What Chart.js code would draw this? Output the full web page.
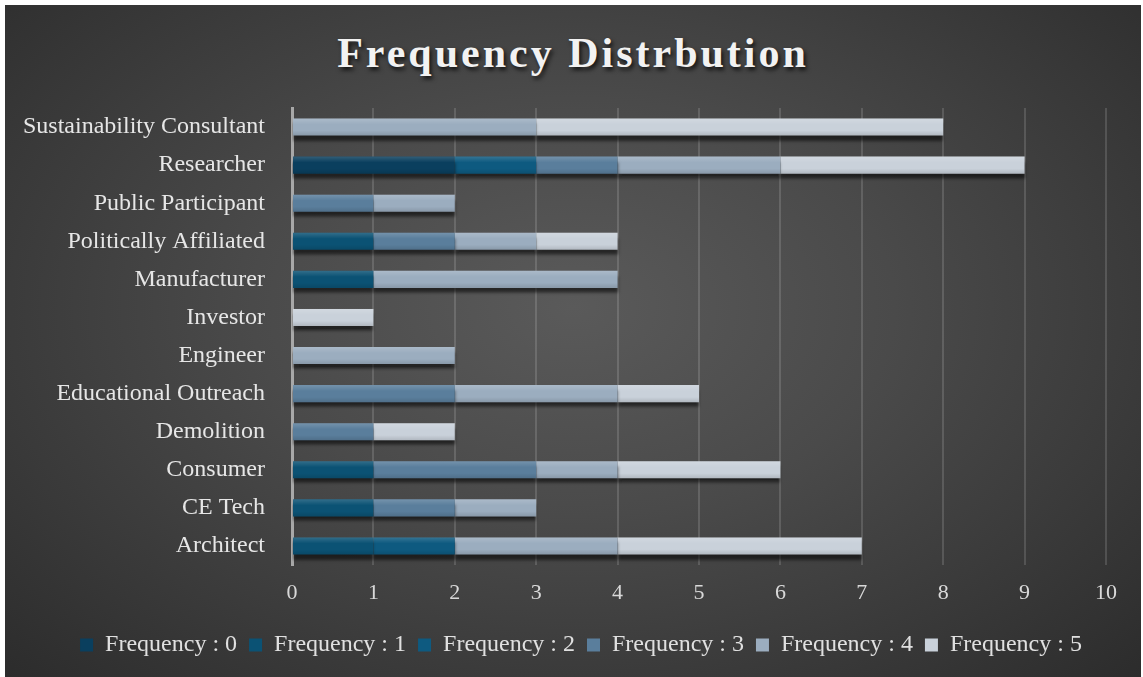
<!DOCTYPE html>
<html>
<head>
<meta charset="utf-8">
<title>Frequency Distrbution</title>
<script src="https://cdn.jsdelivr.net/npm/chart.js@4.4.1/dist/chart.umd.min.js"></script>
<style>
  html, body { margin: 0; padding: 0; background: #fff; }
  #wrap {
    position: absolute; left: 5px; top: 5px; width: 1136px; height: 672px;
    background: radial-gradient(ellipse at 50% 45%, #5a5a5a 0%, #4a4a4a 40%, #2c2c2c 100%);
    overflow: hidden;
  }
  #title {
    position: absolute; left: 0; right: 0; top: 24px; margin: 0;
    text-align: center; font: bold 42px "Liberation Serif", "Times New Roman", serif;
    letter-spacing: 3px; color: #f2f2f2;
    text-shadow: 2px 3px 4px rgba(0,0,0,0.75);
  }
  #chart { position: absolute; left: 0; top: 0; }
</style>
</head>
<body>
<div id="wrap">
  <h1 id="title">Frequency Distrbution</h1>
  <canvas id="chart" width="1136" height="672"></canvas>
</div>
<script>
// ── Data ─────────────────────────────────────────────────────────
const CATEGORIES = ['Sustainability Consultant', 'Researcher', 'Public Participant', 'Politically Affiliated',
  'Manufacturer', 'Investor', 'Engineer', 'Educational Outreach', 'Demolition', 'Consumer', 'CE Tech', 'Architect'];

const FREQ_0 = [0, 2, 0, 0, 0, 0, 0, 0, 0, 0, 0, 0];
const FREQ_1 = [0, 0, 0, 1, 1, 0, 0, 0, 0, 1, 1, 1];
const FREQ_2 = [0, 1, 0, 0, 0, 0, 0, 0, 0, 0, 0, 1];
const FREQ_3 = [0, 1, 1, 1, 0, 0, 0, 2, 1, 2, 1, 0];
const FREQ_4 = [3, 2, 1, 1, 3, 0, 2, 2, 0, 1, 1, 2];
const FREQ_5 = [5, 3, 0, 1, 0, 1, 0, 1, 1, 2, 0, 3];

const SERIES_NAMES = ['Frequency : 0', 'Frequency : 1', 'Frequency : 2', 'Frequency : 3', 'Frequency : 4', 'Frequency : 5'];
const X_TICKS = [0, 1, 2, 3, 4, 5, 6, 7, 8, 9, 10];

const COLORS = ['#0a3f5e', '#0b5274', '#0e5a80', '#5a7e9c', '#9badbf', '#c9d1da'];
const FONT = '"Liberation Serif", "Times New Roman", serif';

// ── Bar shadow + soft gloss ──────────────────────────────────────
const barFx = {
  id: 'barFx',
  afterLayout(chart) {
    // legend sits a little right of centre in the original
    if (chart.legend) { chart.legend.left += 17; chart.legend.right += 17; }
  },
  beforeDatasetsDraw(chart) {
    const c = chart.ctx;
    c.save();
    c.shadowColor = 'rgba(0,0,0,0.55)';
    c.shadowBlur = 3;
    c.shadowOffsetY = 5;
  },
  afterDatasetsDraw(chart) {
    const c = chart.ctx;
    c.restore();
    chart.data.datasets.forEach((ds, i) => {
      chart.getDatasetMeta(i).data.forEach(el => {
        const p = el.getProps(['x', 'y', 'base', 'height'], true);
        const w = Math.abs(p.x - p.base);
        if (w < 1) return;
        const top = p.y - p.height / 2;
        const g = c.createLinearGradient(0, top, 0, top + p.height);
        g.addColorStop(0, 'rgba(255,255,255,0.16)');
        g.addColorStop(0.35, 'rgba(255,255,255,0)');
        g.addColorStop(0.7, 'rgba(0,0,0,0)');
        g.addColorStop(1, 'rgba(0,0,0,0.12)');
        c.fillStyle = g;
        c.fillRect(Math.min(p.x, p.base), top, w, p.height);
      });
    });
  }
};

const seriesData = [FREQ_0, FREQ_1, FREQ_2, FREQ_3, FREQ_4, FREQ_5];

new Chart(document.getElementById('chart'), {
  type: 'bar',
  data: {
    labels: CATEGORIES,
    datasets: seriesData.map((vals, i) => ({
      label: SERIES_NAMES[i],
      data: vals,
      backgroundColor: COLORS[i],
      borderWidth: 0,
      categoryPercentage: 1,
      barPercentage: 0.45
    }))
  },
  options: {
    indexAxis: 'y',
    responsive: false,
    animation: false,
    layout: { padding: { top: 103, left: 17, right: 35, bottom: 10 } },
    scales: {
      x: {
        stacked: true,
        min: 0, max: 10,
        afterBuildTicks: s => { s.ticks = X_TICKS.map(v => ({ value: v })); },
        afterFit: s => { s.height = 56; },
        grid: { color: 'rgba(255,255,255,0.14)', lineWidth: 2, drawTicks: false },
        border: { display: false },
        ticks: { color: '#d9d9d9', font: { family: FONT, size: 22 }, padding: 15 }
      },
      y: {
        stacked: true,
        afterFit: s => { s.width = 270; },
        grid: { display: false, drawTicks: false },
        border: { display: true, color: '#a8a8a8', width: 3 },
        ticks: { color: '#e6e6e6', font: { family: FONT, size: 24 }, padding: 27 }
      }
    },
    plugins: {
      legend: {
        position: 'bottom',
        labels: {
          color: '#e0e0e0',
          font: { family: FONT, size: 24 },
          boxWidth: 13, boxHeight: 13,
          padding: 12
        }
      },
      tooltip: { enabled: false }
    }
  },
  plugins: [barFx]
});
</script>
</body>
</html>
